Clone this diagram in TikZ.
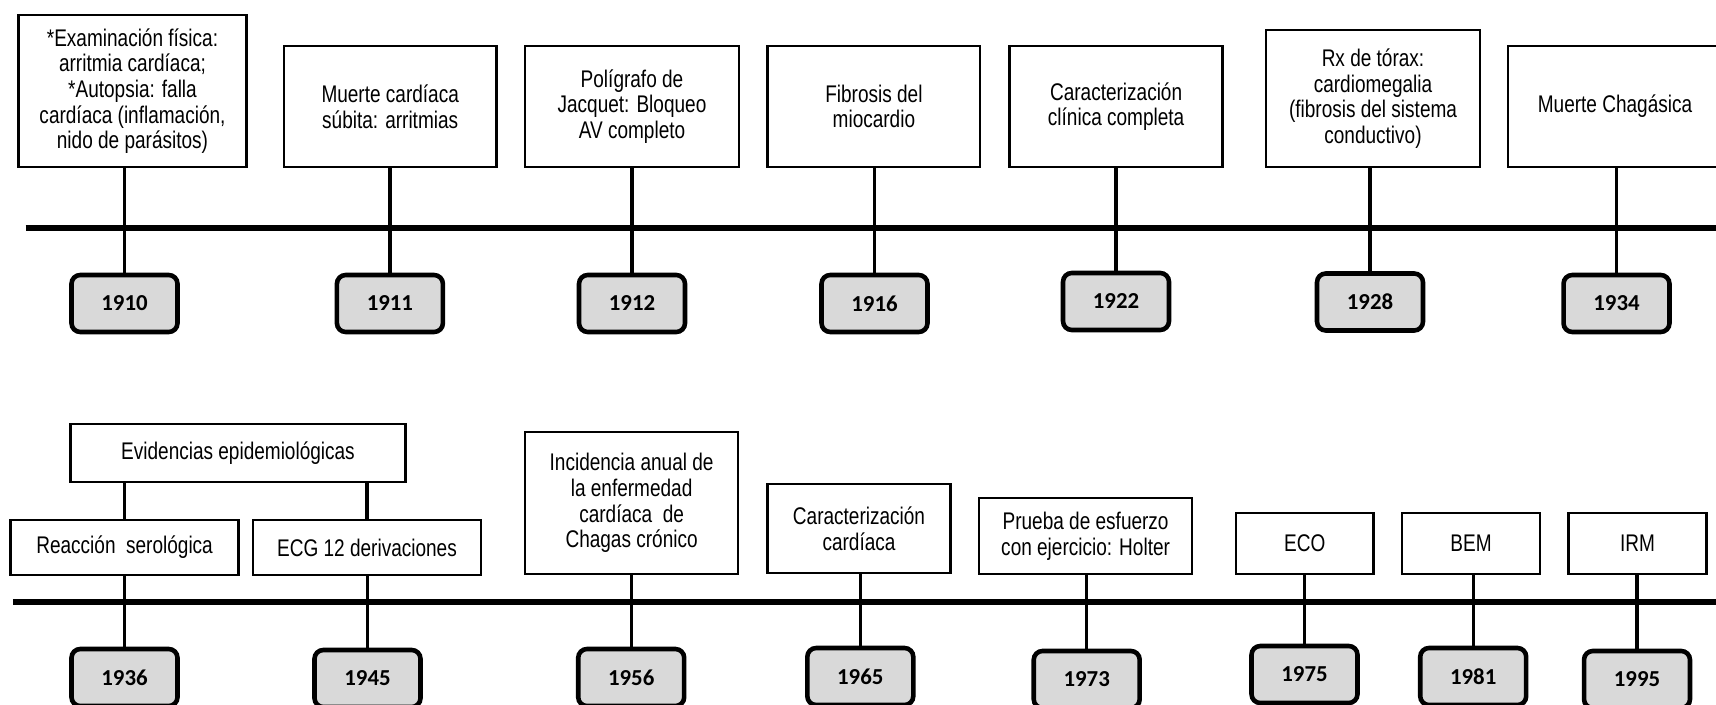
\documentclass[tikz,border=0pt]{standalone}
\usepackage{fontspec}
\newfontfamily\boxfont{Liberation Sans}[FakeStretch=0.79]
\newfontfamily\yearfont{Carlito}
\begin{document}
\begin{tikzpicture}[x=0.02cm,y=-0.02cm,
  ev/.style={draw=black, line width=1.5pt, fill=white, align=center, inner sep=0pt,
    font=\boxfont\fontsize{13.7}{14.6}\selectfont},
  yr/.style={draw=black, line width=2.6pt, fill=yrgray, rounded corners=5pt,
    minimum width=2.12cm, minimum height=1.14cm, inner sep=0pt,
    font=\yearfont\bfseries\fontsize{13}{14}\selectfont},
  conn/.style={line width=1.9pt, draw=black},
  tline/.style={line width=3pt, draw=black}]
\definecolor{yrgray}{HTML}{D9D9D9}
\useasboundingbox (0,0) rectangle (1716,705);
% ---------- top row ----------
\coordinate (ta) at (25.7,228);
\coordinate (tb) at (1716,228);
\draw[tline] (ta) -- (tb);

\node[ev, minimum width=4.556cm, minimum height=3.04cm] (e1910) at (132.5,91)
  {*Examinación física:\\ arritmia cardíaca;\\ *Autopsia: falla\\ cardíaca (inflamación,\\ nido de parásitos)};
\node[ev, minimum width=4.25cm, minimum height=2.42cm] (e1911) at (390.2,106.5)
  {Muerte cardíaca\\ súbita: arritmias};
\node[ev, minimum width=4.28cm, minimum height=2.42cm] (e1912) at (632,106.5)
  {Polígrafo de\\ Jacquet: Bloqueo\\ AV completo};
\node[ev, minimum width=4.25cm, minimum height=2.42cm] (e1916) at (873.9,106.5)
  {Fibrosis del\\ miocardio};
\node[ev, minimum width=4.26cm, minimum height=2.42cm] (e1922) at (1116.1,106.5)
  {Caracterización\\ clínica completa};
\node[ev, minimum width=4.28cm, minimum height=2.74cm] (e1928) at (1373,98.5)
  {Rx de tórax:\\ cardiomegalia\\ (fibrosis del sistema\\ conductivo)};
\node[ev, minimum width=4.28cm, minimum height=2.42cm] (e1934) at (1615,106.5)
  {Muerte Chagásica};

\node[yr] (y1910) at (124.5,303.5) {1910};
\node[yr] (y1911) at (389.9,303.5) {1911};
\node[yr] (y1912) at (632,303.5) {1912};
\node[yr] (y1916) at (874.5,303.5) {1916};
\node[yr] (y1922) at (1116,301.5) {1922};
\node[yr] (y1928) at (1370,302) {1928};
\node[yr] (y1934) at (1616.5,303.5) {1934};

\foreach \y/\e in {1910/e1910,1911/e1911,1912/e1912,1916/e1916,1922/e1922,1928/e1928,1934/e1934}
  \draw[conn] (y\y.north) -- (y\y.north |- \e.south);

% ---------- bottom row ----------
\coordinate (ba) at (12.9,602);
\coordinate (bb) at (1716,602);
\draw[tline] (ba) -- (bb);

\node[ev, minimum width=6.69cm, minimum height=1.16cm] (evid) at (238,453)
  {Evidencias epidemiológicas};
\node[ev, minimum width=4.56cm, minimum height=1.1cm] (reac) at (124.6,547.5)
  {Reacción~ serológica};
\node[ev, minimum width=4.56cm, minimum height=1.1cm] (ecg) at (367,547.5)
  {ECG 12 derivaciones};
\node[ev, minimum width=4.26cm, minimum height=2.84cm] (inc) at (631.6,503)
  {Incidencia anual de\\ la enfermedad\\ cardíaca~ de\\ Chagas crónico};
\node[ev, minimum width=3.65cm, minimum height=1.78cm] (cc) at (859,528.5)
  {Caracterización\\ cardíaca};
\node[ev, minimum width=4.26cm, minimum height=1.52cm] (prueba) at (1085.6,536)
  {Prueba de esfuerzo\\ con ejercicio: Holter};
\node[ev, minimum width=2.75cm, minimum height=1.22cm] (eco) at (1304.75,543.5) {ECO};
\node[ev, minimum width=2.76cm, minimum height=1.22cm] (bem) at (1471,543.5) {BEM};
\node[ev, minimum width=2.76cm, minimum height=1.22cm] (irm) at (1637.5,543.5) {IRM};

\node[yr] (y1936) at (124.5,677.5) {1936};
\node[yr] (y1945) at (367.5,678.5) {1945};
\node[yr] (y1956) at (631.2,677.5) {1956};
\node[yr] (y1965) at (860.3,676.5) {1965};
\node[yr] (y1973) at (1086.7,679.5) {1973};
\node[yr] (y1975) at (1304.5,674.5) {1975};
\node[yr] (y1981) at (1473.2,676.5) {1981};
\node[yr] (y1995) at (1637,679.5) {1995};

\draw[conn] (reac.north) -- (reac.north |- evid.south);
\draw[conn] (ecg.north) -- (ecg.north |- evid.south);
\foreach \y/\e in {1936/reac,1945/ecg,1956/inc,1965/cc,1973/prueba,1975/eco,1981/bem,1995/irm}
  \draw[conn] (y\y.north) -- (y\y.north |- \e.south);
\end{tikzpicture}
\end{document}
